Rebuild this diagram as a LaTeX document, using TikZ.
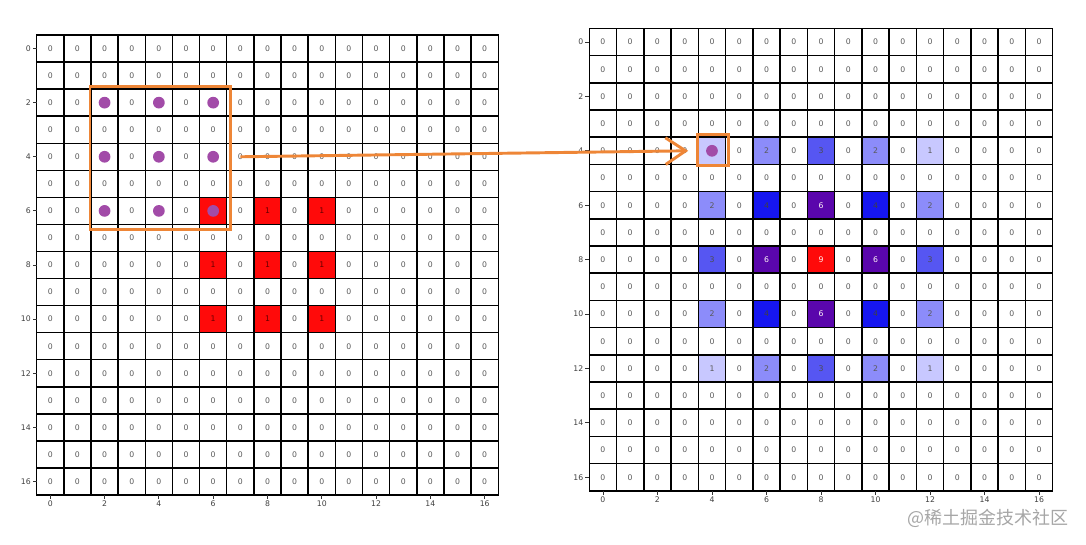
\documentclass[tikz,border=0pt]{standalone}
\usepackage{fontspec}
\setmainfont{DejaVu Sans}
\newfontfamily\cjkfont{Noto Sans CJK SC}
\usetikzlibrary{arrows.meta,positioning}
\definecolor{focusorange}{HTML}{EE8637}
\definecolor{dotpurple}{HTML}{A24BA8}
\definecolor{hitred}{HTML}{FF0A0A}
\definecolor{heat1}{HTML}{C8C8FF}
\definecolor{heat2}{HTML}{8C8CFA}
\definecolor{heat3}{HTML}{5656F2}
\definecolor{heat4}{HTML}{1616F0}
\definecolor{heat6}{HTML}{5A06AC}
\definecolor{heat9}{HTML}{FF0A0A}
\tikzset{
  cellbox/.style={
    minimum width=20.36pt,
    minimum height=20.3pt,
    inner sep=0pt,
    outer sep=0pt,
    fill=white,
    text=black!65,
    font=\fontsize{5.8}{6}\selectfont
  },
  gridline/.style={black, line width=1.1pt, line cap=rect},
  dot/.style={circle, fill=dotpurple, minimum size=8.8pt, inner sep=0pt},
  focusbox/.style={draw=focusorange, line width=2.2pt},
  focusarrow/.style={focusorange, line width=2.2pt,
    -{Straight Barb[length=15pt, width=20pt, line width=2.2pt]}},
  tickmark/.style={black!80, line width=0.6pt},
  ticklab/.style={inner sep=1.2pt, text=black!75, font=\fontsize{5.8}{6}\selectfont},
  watermark/.style={text=black!35, font=\cjkfont\fontsize{13.5}{14}\selectfont}
}

\begin{document}
\begin{tikzpicture}[x=0.75pt, y=-0.75pt]
  \useasboundingbox (0,0) rectangle (1086,544);

  % left grid: input with sampling points
  \foreach \r in {0,...,16}
    \foreach \c in {0,...,16}
      \node[cellbox] (L-\r-\c) at ({36.7+(\c+0.5)*27.15},{35+(\r+0.5)*27.06}) {0};
  \foreach \r in {6,8,10}
    \foreach \c in {6,8,10}
      \node[cellbox, fill=hitred, text=red!40!black] (Lk-\r-\c) at (L-\r-\c) {1};
  \foreach \r/\c/\bg in {2/2/white, 2/4/white, 2/6/white, 4/2/white, 4/4/white,
      4/6/white, 6/2/white, 6/4/white, 6/6/hitred} {
    \node[cellbox, fill=\bg] (Ld-\r-\c) at (L-\r-\c) {};
    \node[dot] (D-\r-\c) at (L-\r-\c) {};
  }
  \foreach \k in {0,...,16} {
    \draw[gridline] (L-\k-0.north west) -- (L-\k-16.north east);
    \draw[gridline] (L-0-\k.north west) -- (L-16-\k.south west);
  }
  \draw[gridline] (L-16-0.south west) -- (L-16-16.south east);
  \draw[gridline] (L-0-16.north east) -- (L-16-16.south east);

  % right grid: result
  \foreach \r in {0,...,16}
    \foreach \c in {0,...,16}
      \node[cellbox, minimum width=20.45pt, minimum height=20.4pt] (R-\r-\c)
        at ({589.3+(\c+0.5)*27.26},{28.4+(\r+0.5)*27.2}) {0};
  \foreach \r/\c/\v/\fg in {4/6/2/black!65, 4/8/3/black!70, 4/10/2/black!65, 4/12/1/black!65,
      6/4/2/black!65, 6/6/4/black!75, 6/8/6/white!85!pink, 6/10/4/black!75, 6/12/2/black!65,
      8/4/3/black!70, 8/6/6/white!85!pink, 8/8/9/white!80!pink, 8/10/6/white!85!pink, 8/12/3/black!70,
      10/4/2/black!65, 10/6/4/black!75, 10/8/6/white!85!pink, 10/10/4/black!75, 10/12/2/black!65,
      12/4/1/black!65, 12/6/2/black!65, 12/8/3/black!70, 12/10/2/black!65, 12/12/1/black!65}
    \node[cellbox, minimum width=20.45pt, minimum height=20.4pt, fill=heat\v, text=\fg]
      (Rk-\r-\c) at (R-\r-\c) {\v};
  \node[cellbox, minimum width=20.45pt, minimum height=20.4pt, fill=heat1] (Rk-4-4) at (R-4-4) {};
  \node[dot] (RD-4-4) at (R-4-4) {};
  \foreach \k in {0,...,16} {
    \draw[gridline] (R-\k-0.north west) -- (R-\k-16.north east);
    \draw[gridline] (R-0-\k.north west) -- (R-16-\k.south west);
  }
  \draw[gridline] (R-16-0.south west) -- (R-16-16.south east);
  \draw[gridline] (R-0-16.north east) -- (R-16-16.south east);

  % axis ticks
  \foreach \k in {0,2,...,16} {
    \draw[tickmark] (L-\k-0.west) -- ++(-4,0) node[ticklab, left] (Ly-\k) {\k};
    \draw[tickmark] (L-16-\k.south) -- ++(0,4) node[ticklab, below] (Lx-\k) {\k};
    \draw[tickmark] (R-\k-0.west) -- ++(-4,0) node[ticklab, left] (Ry-\k) {\k};
    \draw[tickmark] (R-16-\k.south) -- ++(0,4) node[ticklab, below] (Rx-\k) {\k};
  }

  % window and its mapping
  \draw[focusbox] ([shift={(-1,-3)}]L-2-2.north west) rectangle ([shift={(4,5)}]L-6-6.south east);
  \draw[focusbox] ([shift={(-1,-3)}]R-4-4.north west) rectangle ([shift={(2.5,1.5)}]R-4-4.south east);
  \draw[focusarrow] (L-4-7.center) -- ([shift={(3.5,0)}]R-4-3.center);

  \node[watermark] (credit) at (988,518) {@稀土掘金技术社区};
\end{tikzpicture}
\end{document}
